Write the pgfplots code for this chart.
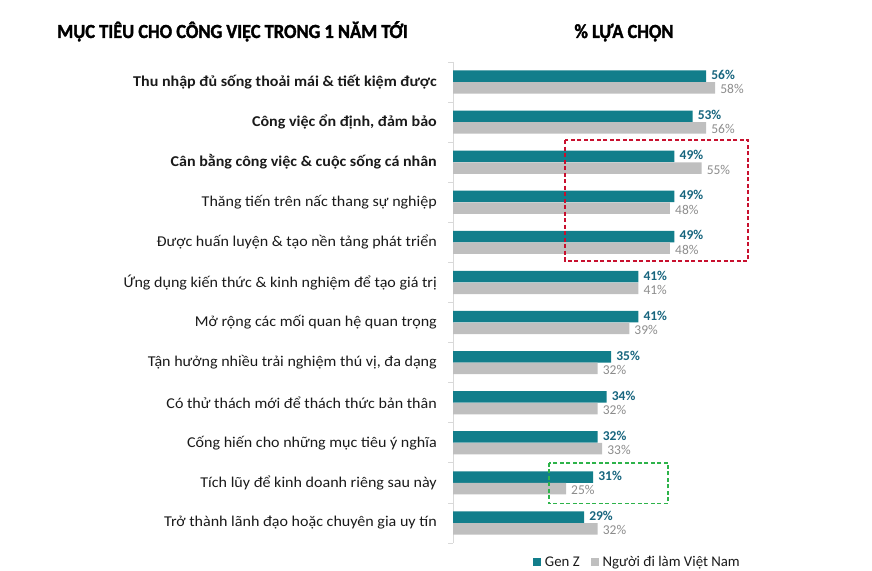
\documentclass[border=0pt]{standalone}
\usepackage{pgfplots}
\pgfplotsset{compat=1.18}
\usepackage{fontspec}
\setmainfont{Carlito}
\newfontfamily\titlefont{Carlito}[FakeStretch=0.92, FakeBold=1.6]
\newfontfamily\labfont{Carlito}[FakeStretch=1.07]
\definecolor{tealbar}{HTML}{127E8B}
\definecolor{teallab}{HTML}{17657E}
\definecolor{graybar}{HTML}{BFBFBF}
\definecolor{graylab}{HTML}{8C8C8C}
\definecolor{boxred}{HTML}{C8102E}
\definecolor{boxgreen}{HTML}{2DB34A}
\definecolor{txt}{HTML}{1A1A1A}
\begin{document}
\begin{tikzpicture}
\useasboundingbox (0,0) rectangle (872pt,570pt);
\node[anchor=base west, inner sep=0pt, font=\titlefont\bfseries\fontsize{20}{22}\selectfont] at (57pt,532pt) {MỤC TIÊU CHO CÔNG VIỆC TRONG 1 NĂM TỚI};
\node[anchor=base, inner sep=0pt, font=\titlefont\bfseries\fontsize{20}{22}\selectfont] at (624pt,532pt) {\% LỰA CHỌN};
\begin{axis}[
  at={(453pt,508pt)}, anchor=north west,
  scale only axis, width=316.4pt, height=481pt,
  xmin=0, xmax=70, ymin=-0.5, ymax=11.5,
  y dir=reverse, clip=false,
  axis y line*=left, axis x line=none,
  y axis line style={draw=gray!30, line width=0.8pt},
  xbar, bar width=11.5pt, bar shift=0pt,
  ytick={0,...,11},
  major tick length=0pt,
  minor ytick={-0.5,0.5,...,11.5},
  minor tick length=5pt,
  tick align=outside,
  minor tick style={draw=gray!30, line width=0.8pt},
  /pgf/number format/assume math mode=true,
  yticklabel style={anchor=east, inner sep=0pt, xshift=-16pt, font=\labfont\fontsize{15}{17}\selectfont, text=txt},
  yticklabels={
    {\bfseries Thu nhập đủ sống thoải mái \& tiết kiệm được},
    {\bfseries Công việc ổn định, đảm bảo},
    {\bfseries Cân bằng công việc \& cuộc sống cá nhân},
    {Thăng tiến trên nấc thang sự nghiệp},
    {Được huấn luyện \& tạo nền tảng phát triển},
    {Ứng dụng kiến thức \& kinh nghiệm để tạo giá trị},
    {Mở rộng các mối quan hệ quan trọng},
    {Tận hưởng nhiều trải nghiệm thú vị, đa dạng},
    {Có thử thách mới để thách thức bản thân},
    {Cống hiến cho những mục tiêu ý nghĩa},
    {Tích lũy để kinh doanh riêng sau này},
    {Trở thành lãnh đạo hoặc chuyên gia uy tín}},
  point meta=x,
  nodes near coords={\pgfmathprintnumber{\pgfplotspointmeta}\%},
  legend style={draw=none, at={(0.252,-0.04)}, anchor=west, legend columns=2,
    font=\fontsize{14.8}{16}\selectfont, text=txt, inner sep=0pt,
    /tikz/every even column/.append style={column sep=7pt},
    nodes={inner xsep=4pt}},
  legend image code/.code={\fill[#1] (0pt,-4pt) rectangle (8pt,4pt);},
]
\addplot[fill=tealbar, draw=none,
  nodes near coords style={anchor=west, inner sep=0pt, xshift=5pt, yshift=1.2pt, text=teallab, font=\bfseries\fontsize{13.5}{14}\selectfont}]
  coordinates {
  (56,-0.145) (53,0.855) (49,1.855) (49,2.855) (49,3.855) (41,4.855)
  (41,5.855) (35,6.855) (34,7.855) (32,8.855) (31,9.855) (29,10.855)};
\addlegendentry{Gen Z}
\addplot[fill=graybar, draw=none,
  nodes near coords style={anchor=west, inner sep=0pt, xshift=5pt, yshift=-1.5pt, text=graylab, font=\fontsize{13.5}{14}\selectfont}]
  coordinates {
  (58,0.145) (56,1.145) (55,2.145) (48,3.145) (48,4.145) (41,5.145)
  (39,6.145) (32,7.145) (32,8.145) (33,9.145) (25,10.145) (32,11.145)};
\addlegendentry{Người đi làm Việt Nam}
\draw[boxred, line width=1.5pt, dash pattern=on 4pt off 2.5pt] (axis cs:24.8,1.446) rectangle (axis cs:65.3,4.46);
\draw[boxgreen, line width=1.5pt, dash pattern=on 4pt off 2.5pt] (axis cs:21.2,9.5) rectangle (axis cs:47.6,10.52);
\end{axis}
\end{tikzpicture}
\end{document}
